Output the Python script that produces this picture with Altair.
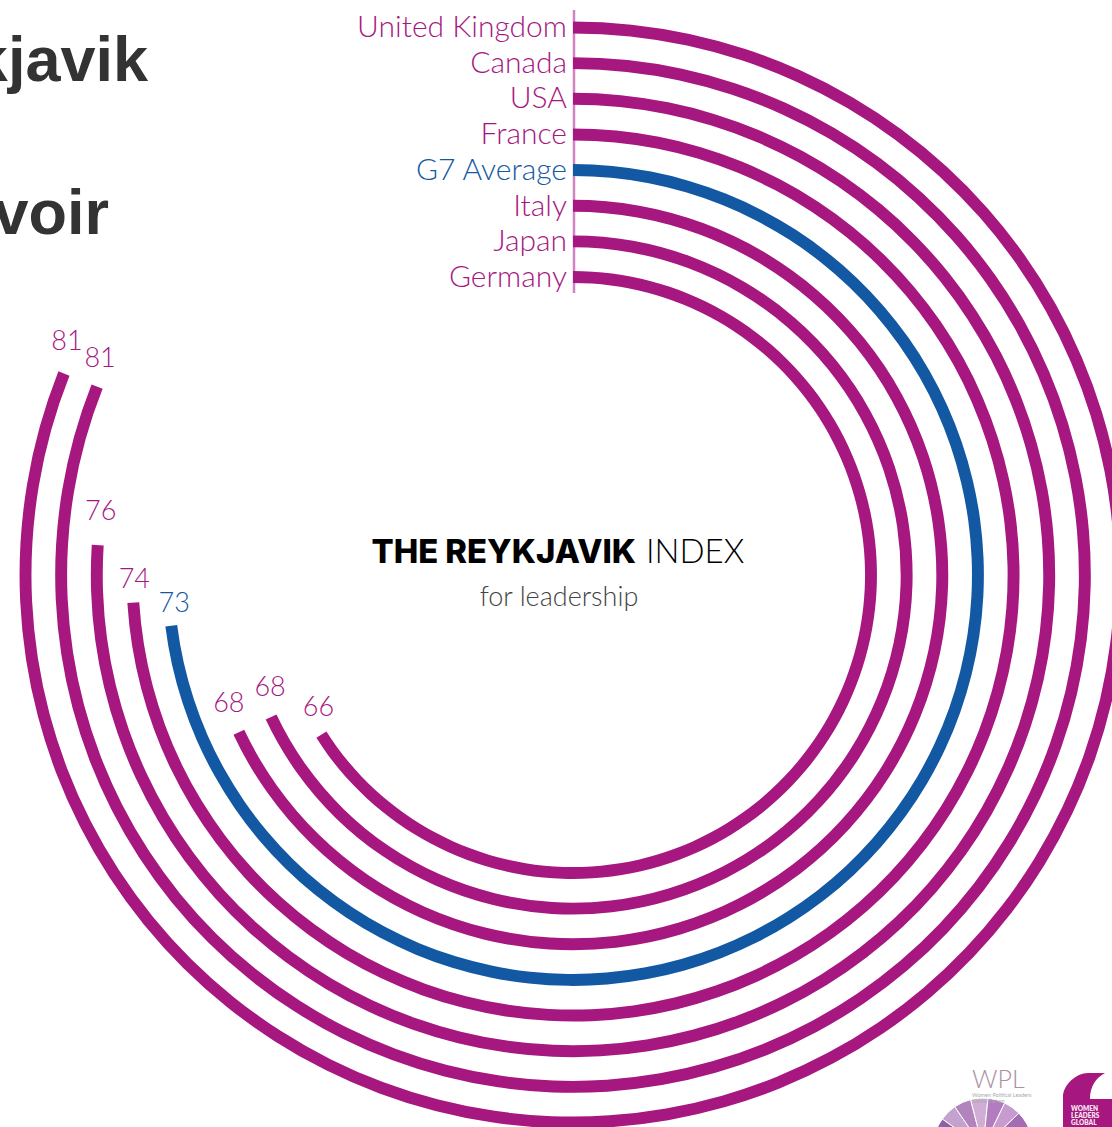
import altair as alt
import pandas as pd

# Reykjavik Index scores, outermost ring first
countries = ["United Kingdom", "Canada", "USA", "France", "G7 Average", "Italy", "Japan", "Germany"]
scores = [81, 81, 76, 74, 73, 68, 68, 66]
rings = [7, 6, 5, 4, 3, 2, 1, 0]

PURPLE = "#a6177f"
BLUE = "#1358a3"
CX, CY = 573, 575
W, H = 1112, 1127
LABEL_FONT = "Lato"

# Hand placement of each score label relative to its arc end
label_nudges = {
    "United Kingdom": (3, -31), "Canada": (3, -28), "USA": (3, -33), "France": (1, -23),
    "G7 Average": (3, -22), "Italy": (-10, -28), "Japan": (-1, -29), "Germany": (-3, -27),
}

df = pd.DataFrame({"country": countries, "score": scores, "ring": rings})
df["inner"] = df["ring"] - 0.167
df["outer"] = df["ring"] + 0.167

theta_scale = alt.Scale(domain=[0, 100], range=[0, 6.28318])
radius_scale = alt.Scale(type="linear", domain=[0, 7], range=[298, 547.5], zero=False, nice=False)
ring_y_scale = alt.Scale(domain=[0, 7], range=[278, 28], zero=False, nice=False)
ring_colour = alt.condition(alt.datum.country == "G7 Average", alt.value(BLUE), alt.value(PURPLE))
base = alt.Chart(df)

arcs = base.mark_arc().encode(
    x=alt.value(CX), y=alt.value(CY),
    theta=alt.Theta("score:Q", scale=theta_scale, stack=False),
    radius=alt.Radius("outer:Q", scale=radius_scale),
    radius2=alt.Radius2("inner:Q"),
    color=ring_colour,
)

score_labels = [
    base.transform_filter(alt.datum.country == name).mark_text(
        font=LABEL_FONT, fontWeight=300, fontSize=27, dx=nudge[0], dy=nudge[1], baseline="middle"
    ).encode(
        x=alt.value(CX), y=alt.value(CY),
        theta=alt.Theta("score:Q", scale=theta_scale, stack=False),
        radius=alt.Radius("ring:Q", scale=radius_scale),
        text="score:Q",
        color=ring_colour,
    )
    for name, nudge in label_nudges.items()
]

country_labels = base.mark_text(font=LABEL_FONT, fontWeight=300, fontSize=30, align="right", baseline="middle").encode(
    x=alt.value(567),
    y=alt.Y("ring:Q", scale=ring_y_scale, axis=None),
    text="country:N",
    color=ring_colour,
)

start_line = alt.Chart(pd.DataFrame({"k": [0]})).mark_rule(color="#d184c2", strokeWidth=2.5).encode(
    x=alt.value(574), y=alt.value(10), y2=alt.value(293)
)


def text_layer(label, x, y, **style):
    return alt.Chart(pd.DataFrame({"t": [label]})).mark_text(baseline="alphabetic", **style).encode(
        x=alt.value(x), y=alt.value(y), text="t:N"
    )


headline = dict(font="Liberation Sans", fontWeight="bold", fontSize=63, align="right", color="#333333")
titles = [
    text_layer("Reykjavik", 148, 81, **headline),
    text_layer("voir", 109, 234, **headline),
]

index_title = [
    text_layer("THE REYKJAVIK", 636, 563, font="Inter", fontWeight=800, fontSize=32.8, align="right", color="#000000"),
    text_layer("INDEX", 646, 563, font="Lato", fontWeight=300, fontSize=33, align="left", color="#000000"),
    text_layer("for leadership", 559, 606, font="Lato", fontWeight=300, fontSize=27, align="center", color="#444444"),
]

# Partner logos in the lower right corner
fan = pd.DataFrame({
    "a": [-1.25, -0.95, -0.6, -0.25, 0.1, 0.45, 0.8],
    "b": [-0.95, -0.6, -0.25, 0.1, 0.45, 0.8, 1.35],
    "tone": ["#8a62a6", "#c3a3cd", "#b184bd", "#cfadd5", "#b37cc1", "#c79ad0", "#a56cb6"],
})
wpl_fan = alt.Chart(fan).mark_arc(stroke="#ffffff", strokeWidth=1).encode(
    x=alt.value(983), y=alt.value(1148),
    theta=alt.Theta("a:Q", scale=None, stack=False),
    theta2="b:Q",
    radius=alt.value(50),
    radius2=alt.value(8),
    color=alt.Color("tone:N", scale=None),
)

wlg_path = "M-25 27 L-25 -3 C-25 -15 -12 -27 0 -27 L17 -27 C8 -22 2 -14 2 -1 L24 -1 L24 27 Z"
wlg_mark = alt.Chart(pd.DataFrame({"k": [0]})).mark_point(
    shape=wlg_path, filled=True, opacity=1, color=PURPLE, size=4, strokeWidth=0
).encode(x=alt.value(1088), y=alt.value(1100))

logos = [
    wpl_fan,
    text_layer("WPL", 972, 1088, font="Lato", fontWeight=300, fontSize=25, align="left", color="#a892a2"),
    text_layer("Women Political Leaders", 972, 1097, font="Lato", fontSize=5.5, align="left", color="#a9a9a9"),
    text_layer("Global Forum", 972, 1103, font="Lato", fontSize=5.5, align="left", color="#a9a9a9"),
    wlg_mark,
    text_layer("WOMEN", 1071, 1111, font="Lato", fontWeight=800, fontSize=6.5, align="left", color="#f5e6f1"),
    text_layer("LEADERS", 1071, 1118, font="Lato", fontWeight=800, fontSize=6.5, align="left", color="#f5e6f1"),
    text_layer("GLOBAL", 1071, 1125, font="Lato", fontWeight=800, fontSize=6.5, align="left", color="#f5e6f1"),
]

chart = alt.layer(start_line, arcs, country_labels, *score_labels, *titles, *index_title, *logos).properties(
    width=W, height=H, padding=0, autosize=alt.AutoSizeParams(type="none"),
    background="#ffffff",
).configure_view(stroke=None)

chart.save("out.html", embed_options={"renderer": "svg", "actions": False})
